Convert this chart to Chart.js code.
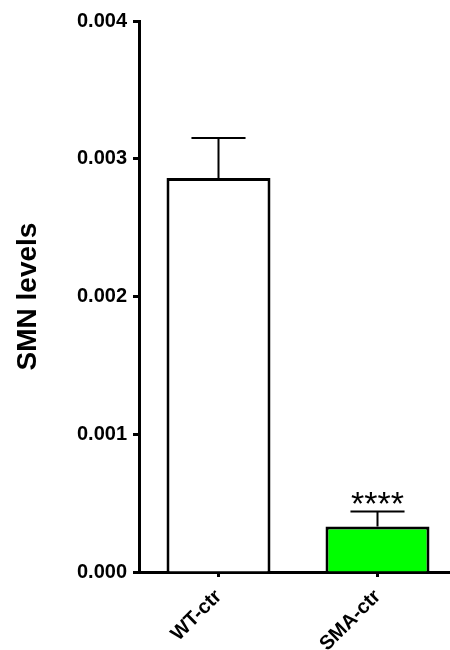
<!DOCTYPE html>
<html><head><meta charset="utf-8">
<script src="https://cdn.jsdelivr.net/npm/chart.js@4"></script>
<style>
html,body{margin:0;padding:0;background:#fff;overflow:hidden;}
#wrap{width:460px;height:650px;position:relative;}
</style></head><body>
<div id="wrap"><canvas id="c"></canvas></div>
<script>
// Group names, mean SMN levels and their upper SEM
const categories = ['WT-ctr', 'SMA-ctr'];
const smnMeans = [0.00286, 0.00033];
const smnSem = [0.00029, 0.00011];
const significance = ['', '****'];
const yTickValues = [0, 0.001, 0.002, 0.003, 0.004];
const barColors = ['#ffffff', '#00ff00'];

const FONT = "'Liberation Sans', Arial, Helvetica, sans-serif";

// Upper error whiskers plus significance stars above them
const errorBars = {
  id: 'errorBars',
  afterDatasetsDraw(chart) {
    const ctx = chart.ctx;
    const meta = chart.getDatasetMeta(0);
    const y = chart.scales.y;
    ctx.save();
    ctx.strokeStyle = '#000';
    ctx.lineWidth = 2;
    meta.data.forEach((bar, i) => {
      const top = y.getPixelForValue(smnMeans[i]);
      const hi = y.getPixelForValue(smnMeans[i] + smnSem[i]);
      const half = bar.width * 0.26;
      ctx.beginPath();
      ctx.moveTo(bar.x, top);
      ctx.lineTo(bar.x, hi);
      ctx.moveTo(bar.x - half, hi);
      ctx.lineTo(bar.x + half, hi);
      ctx.stroke();
      if (significance[i]) {
        ctx.fillStyle = '#000';
        ctx.font = `34px ${FONT}`;
        ctx.textAlign = 'center';
        ctx.textBaseline = 'alphabetic';
        ctx.fillText(significance[i], bar.x, hi + 4);
      }
    });
    ctx.restore();
  }
};

new Chart(document.getElementById('c'), {
  type: 'bar',
  data: {
    labels: categories,
    datasets: [{
      data: smnMeans,
      backgroundColor: barColors,
      borderColor: '#000',
      borderWidth: 3,
      borderSkipped: 'start',
      barPercentage: 0.654,
      categoryPercentage: 1
    }]
  },
  options: {
    responsive: true,
    maintainAspectRatio: false,
    animation: false,
    layout: { padding: { top: 21, right: 3, left: 0, bottom: 0 } },
    plugins: { legend: { display: false }, tooltip: { enabled: false } },
    scales: {
      x: {
        offset: true,
        grid: { offset: false, drawOnChartArea: false, drawTicks: true, tickLength: 5, tickWidth: 3, tickColor: '#000' },
        border: { display: true, width: 3, color: '#000' },
        ticks: {
          color: '#000',
          font: { family: FONT, size: 20, weight: 'bold' },
          minRotation: 45, maxRotation: 45, padding: 8
        },
        afterFit(s) { s.height = 78; }
      },
      y: {
        min: 0,
        max: 0.004,
        grid: { drawOnChartArea: false, drawTicks: true, tickLength: 6, tickWidth: 3, tickColor: '#000' },
        border: { display: true, width: 3, color: '#000' },
        afterBuildTicks(s) { s.ticks = yTickValues.map(v => ({ value: v })); },
        ticks: {
          color: '#000',
          font: { family: FONT, size: 20, weight: 'bold' },
          padding: 6,
          callback: v => Number(v).toFixed(3)
        },
        title: {
          display: true,
          text: 'SMN levels',
          color: '#000',
          font: { family: FONT, size: 28, weight: 'bold' },
          padding: { top: 11, bottom: 0 }
        },
        afterFit(s) { s.width = 139; }
      }
    }
  },
  plugins: [errorBars]
});
</script>
</body></html>
